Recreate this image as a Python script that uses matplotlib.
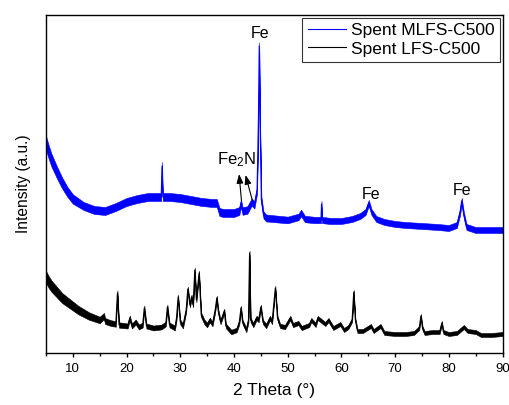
import numpy as np
import matplotlib
matplotlib.use("Agg")
import matplotlib.pyplot as plt

plt.rcParams['font.family'] = ['Liberation Sans', 'DejaVu Sans']
plt.rcParams['mathtext.default'] = 'regular'

# Spent MLFS-C500 (blue), 2theta vs intensity (a.u.)
mlfs_x = [5.0, 5.5, 6, 7, 8, 9, 10, 12, 14, 16, 18, 20, 22, 24, 26, 26.45, 26.6, 26.75,
          28, 30, 32, 34, 36, 36.8, 37.3, 38, 40, 41.0, 41.3, 41.6, 42.5, 43.3, 43.8,
          44.3, 44.55, 44.7, 44.85, 45.1, 45.5, 46, 48, 50, 52, 52.5, 53.2, 55, 56.2,
          56.3, 56.4, 58, 60, 62, 63.5, 64.5, 65.1, 65.6, 66.5, 68, 70, 72, 75, 78, 80,
          81.5, 82.1, 82.4, 82.8, 83.3, 85, 88, 90]
mlfs_y = [209, 200, 192, 180, 169, 160, 153, 146, 142, 141, 145, 150, 153, 155, 155, 155, 186, 155,
          155, 154, 152, 150, 149, 149, 140, 139, 139, 141, 149, 141, 142, 150, 147,
          162, 232, 306, 232, 152, 137, 134, 133, 132, 135, 139, 133, 132, 132,
          148, 132, 131, 131, 133, 136, 140, 149, 140, 133, 130, 128, 127, 126, 125, 124,
          127, 140, 151, 137, 125, 122, 122, 122]
mlfs_noise_x = [5, 7, 9, 12, 20, 40, 45, 60, 90]
mlfs_noise_w = [14, 12, 10, 8, 8, 8, 7, 6, 6]

# Spent LFS-C500 (black)
lfs_x = [5.0, 5.5, 6, 7, 8, 9, 10, 11, 12, 13, 14, 15, 15.8, 16, 17, 18.0, 18.3, 18.6,
         20.2, 20.6, 21.0, 21.7, 22.3, 23.0, 23.3, 23.7, 25, 26.5, 27.3, 27.6, 28.0,
         29.0, 29.3, 29.6, 30.0, 30.5, 31.1, 31.4, 31.8, 32.1, 32.4, 32.7, 33.0, 33.5,
         33.9, 34.5, 35.0, 35.5, 36.0, 36.5, 36.8, 37.1, 37.5, 38.2, 38.5, 39.5, 40.5,
         41.0, 41.3, 41.6, 42.3, 42.7, 42.9, 43.1, 43.6, 44.2, 44.6, 45.0, 45.4, 46.0,
         46.7, 47.1, 47.7, 48.1, 48.6, 49.5, 50.5, 51.0, 52.0, 52.6, 54.0, 54.4, 55.2,
         55.6, 56.3, 57.0, 57.6, 58.5, 59.8, 60.5, 61.3, 62.0, 62.3, 62.6, 63.0, 64.0,
         65.5, 66.0, 67.3, 68, 70, 72, 73.5, 74.5, 74.8, 75.1, 75.5, 77, 78.3, 78.7,
         79.0, 80, 81.5, 82.8, 83.5, 85, 86, 88, 90]
lfs_y = [75, 70, 66, 60, 54, 50, 46, 42, 39, 36, 34, 32, 36, 31, 29, 28, 59, 27,
         26, 34, 26, 30, 25, 27, 44, 26, 24, 25, 28, 45, 27,
         24, 34, 55, 30, 26, 42, 63, 47, 55, 47, 82, 52, 79,
         37, 30, 27, 32, 28, 42, 54, 40, 30, 41, 26, 20, 22,
         30, 44, 30, 22, 32, 99, 32, 27, 34, 32, 45, 30, 26,
         34, 30, 64, 34, 26, 25, 34, 27, 29, 24, 27, 32, 27,
         34, 31, 28, 32, 24, 28, 22, 25, 32, 60, 32, 21, 21,
         26, 21, 26, 19, 18, 18, 19, 24, 36, 24, 19, 20, 20, 29,
         20, 18, 19, 25, 21, 20, 17, 17, 18]
lfs_noise_x = [5, 8, 12, 16, 20, 60, 90]
lfs_noise_w = [12, 10, 8, 6, 5, 4, 4]

peak_labels = ['Fe', 'Fe', 'Fe']
peak_label_x = [44.9, 65.5, 82.5]
peak_label_y = [318, 157, 161]

fig = plt.figure(figsize=(5.10, 4.05), dpi=100)
ax = fig.add_axes([0.0902, 0.1284, 0.8951, 0.8346])


def trace(x, y, nx, nw, color, label):
    x = np.array(x, dtype=float)
    y = np.array(y, dtype=float)
    w = np.interp(x, nx, nw)
    ax.fill_between(x, y - w / 2, y + w / 2, color=color, lw=0.4)
    ax.plot(x, y, color=color, lw=0.8, label=label)


trace(mlfs_x, mlfs_y, mlfs_noise_x, mlfs_noise_w, '#0000ff', 'Spent MLFS-C500')
trace(lfs_x, lfs_y, lfs_noise_x, lfs_noise_w, '#000000', 'Spent LFS-C500')

for t, px, py in zip(peak_labels, peak_label_x, peak_label_y):
    ax.text(px, py, t, ha='center', va='center', fontsize=11.5)

# Fe2N label with two arrows
ax.text(40.4, 192, 'Fe$_2$N', ha='center', va='center', fontsize=12)
arrow = dict(arrowstyle='-|>,head_width=0.4,head_length=1.1', mutation_scale=5,
             color='black', lw=0.8, shrinkA=0, shrinkB=0)
ax.annotate('', xy=(40.95, 178), xytext=(41.4, 151), arrowprops=arrow)
ax.annotate('', xy=(42.15, 177), xytext=(43.45, 151), arrowprops=arrow)

ax.set_xlim(5, 90)
ax.set_ylim(-1, 337)
ax.set_xticks(np.arange(10, 91, 10))
ax.set_xticks(np.arange(5, 91, 5), minor=True)
ax.set_yticks([])
ax.tick_params(axis='x', which='major', direction='out', length=3, width=1,
               labelsize=9.5, pad=4)
ax.tick_params(axis='x', which='minor', direction='out', length=2.5, width=1)
for s in ax.spines.values():
    s.set_linewidth(1.0)

ax.set_xlabel('2 Theta (°)', fontsize=12.5, labelpad=6)
ax.set_ylabel('Intensity (a.u.)', fontsize=11.2, labelpad=11)

leg = ax.legend(loc='upper right', bbox_to_anchor=(1, 1), fontsize=12.5,
                frameon=True, fancybox=False, borderpad=0.3, borderaxespad=0.15,
                handlelength=2.2, handletextpad=0.3, labelspacing=0.2)
leg.get_frame().set_edgecolor('black')
leg.get_frame().set_linewidth(0.8)

fig.savefig('out.png', dpi=100)
